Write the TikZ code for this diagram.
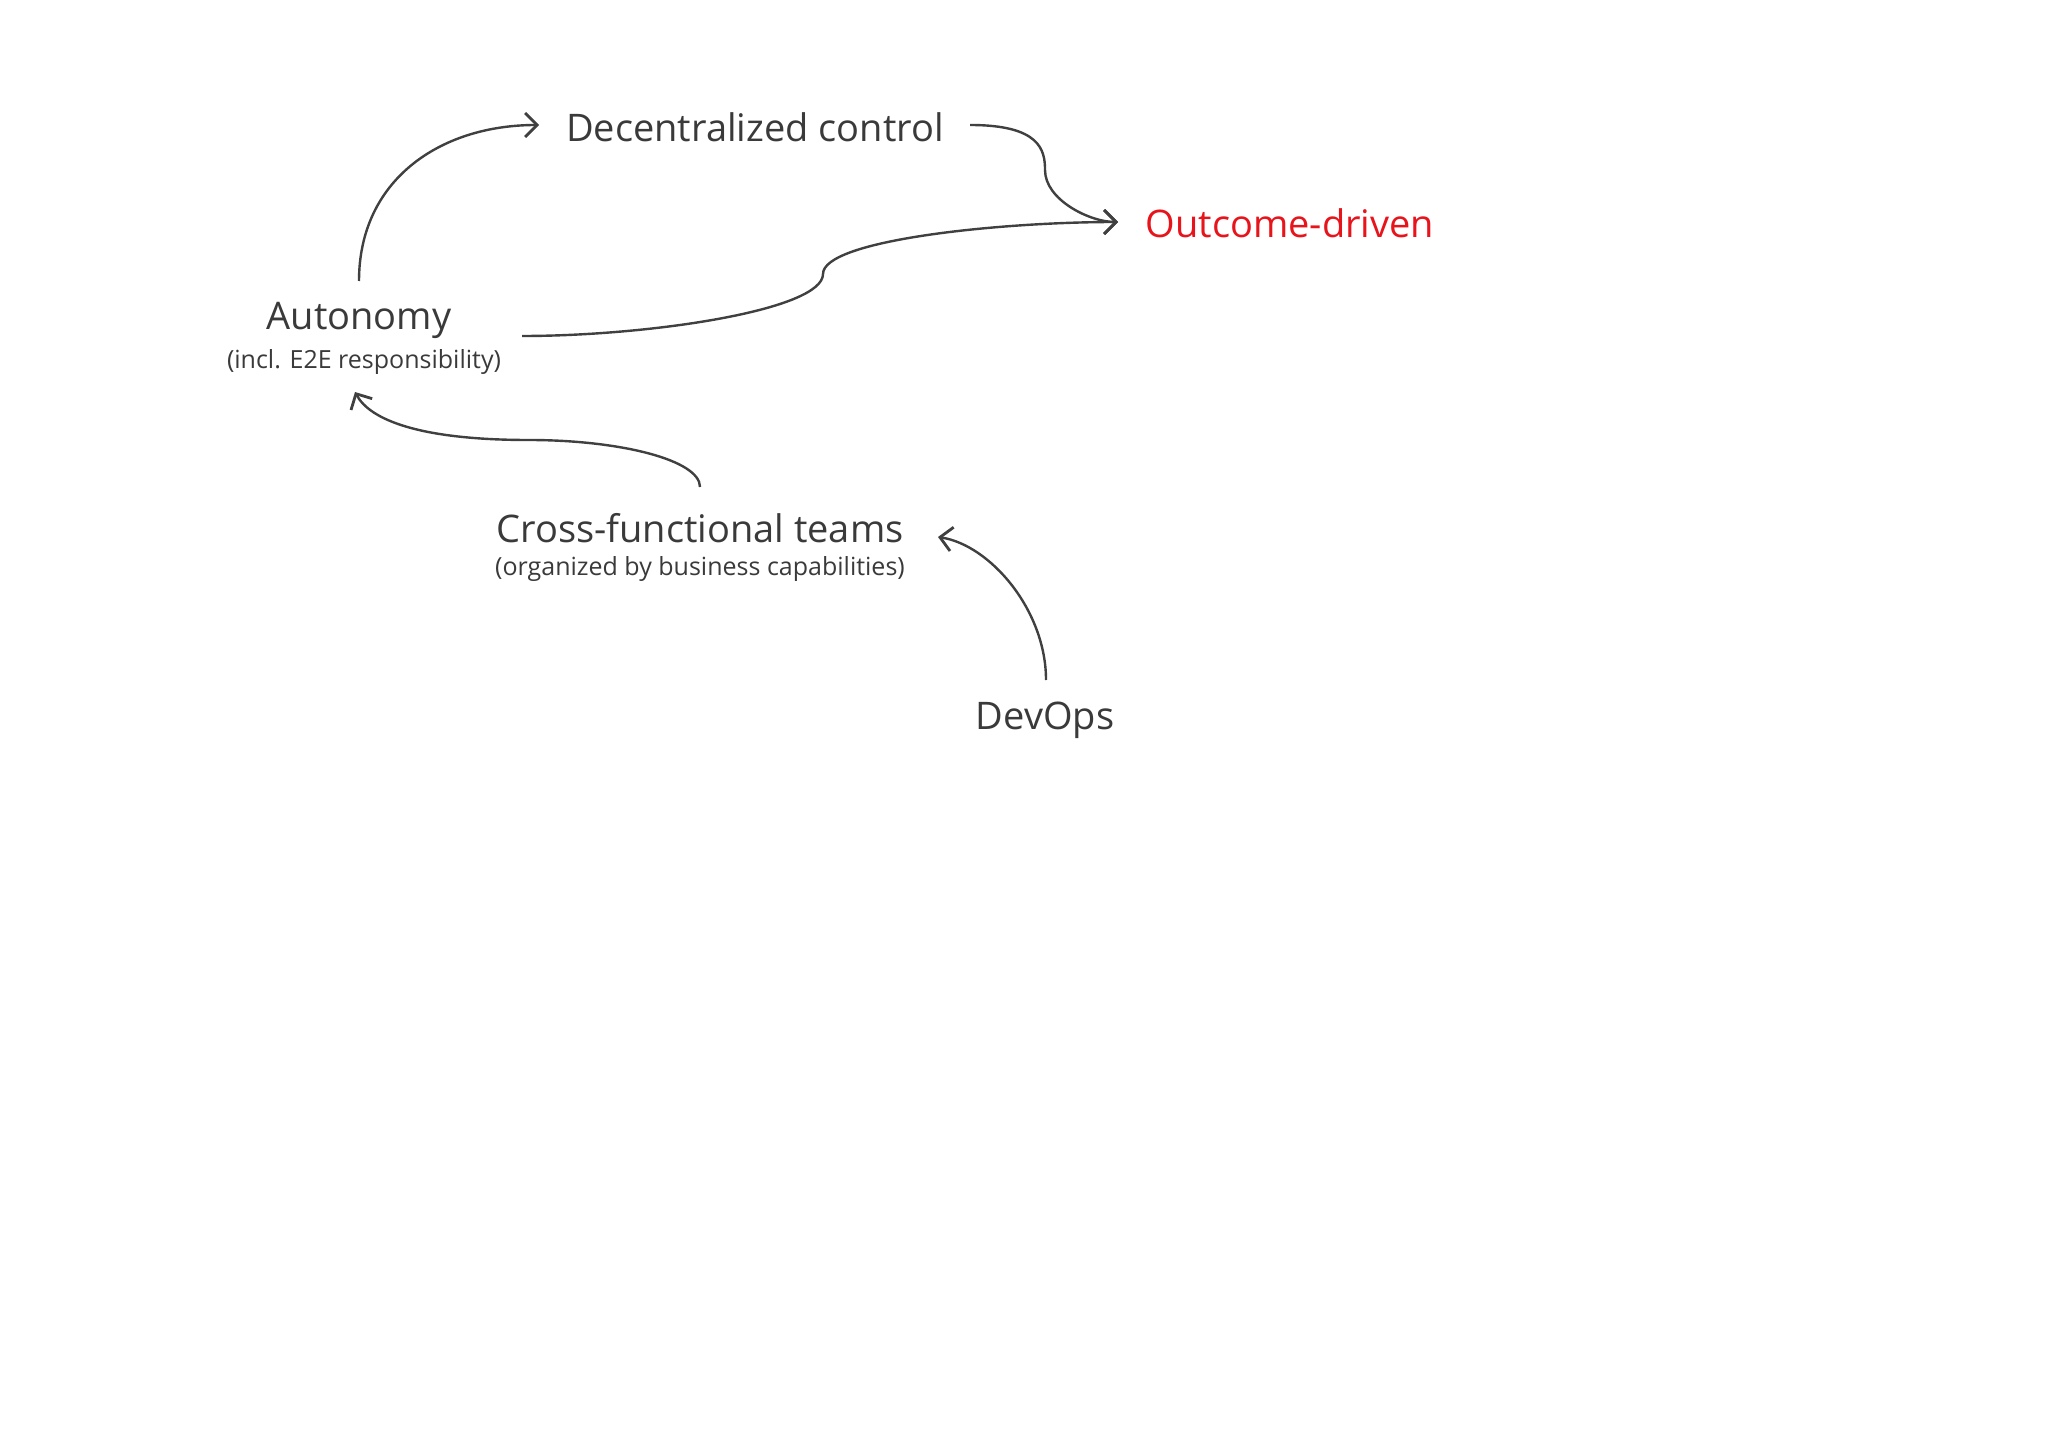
\documentclass[tikz,border=0pt]{standalone}
\usepackage{fontspec}
\setmainfont{Open Sans}
\usetikzlibrary{arrows.meta}
\definecolor{ln}{HTML}{404040}
\definecolor{rd}{HTML}{E8141C}
\begin{document}
\begin{tikzpicture}[x=0.5pt,y=-0.5pt,
  main/.style={font=\fontsize{19}{22}\selectfont, text=ln!90!black, inner sep=0pt},
  sub/.style={font=\fontsize{12.5}{15}\selectfont, text=ln!90!black, inner sep=0pt},
  conn/.style={draw=ln, line width=1.2pt, -{Straight Barb[length=6pt,width=12pt,line width=1.4pt]}}]
\useasboundingbox[fill=white] (0,0) rectangle (2048,1449);
\node[main] (dc) at (755,127) {Decentralized control};
\node[main, text=rd] (od) at (1290,223) {Outcome-driven};
\node[main] (au) at (359,320) {Autonomy};
\node[sub] (aus) at (364,362) {(incl. E2E responsibility)};
\node[main] (cf) at (700,528) {Cross-functional teams};
\node[sub] (cfs) at (700,569) {(organized by business capabilities)};
\node[main] (dv) at (1045,720) {DevOps};
\coordinate (a1s) at (359,281); \coordinate (a1e) at (539,125);
\coordinate (a2s) at (970,125); \coordinate (a2m) at (1045,170); \coordinate (odin) at (1118,222);
\coordinate (a3s) at (522,336); \coordinate (a3m) at (823,274);
\coordinate (a4s) at (700,487); \coordinate (a4m) at (529,440); \coordinate (a4e) at (355,392);
\coordinate (a5s) at (1046,680); \coordinate (a5e) at (938,537);
\draw[conn] (a1s) .. controls (359,180) and (440,125) .. (a1e);
\draw[conn] (a2s) .. controls (1040,125) and (1045,150) .. (a2m) .. controls (1045,200) and (1090,222) .. (odin);
\draw[conn] (a3s) .. controls (650,336) and (823,310) .. (a3m) .. controls (823,240) and (1000,222) .. (odin);
\draw[conn] (a4s) .. controls (700,460) and (620,440) .. (a4m) .. controls (420,440) and (370,420) .. (a4e);
\draw[conn] (a5s) .. controls (1046,610) and (990,545) .. (a5e);
\end{tikzpicture}
\end{document}
